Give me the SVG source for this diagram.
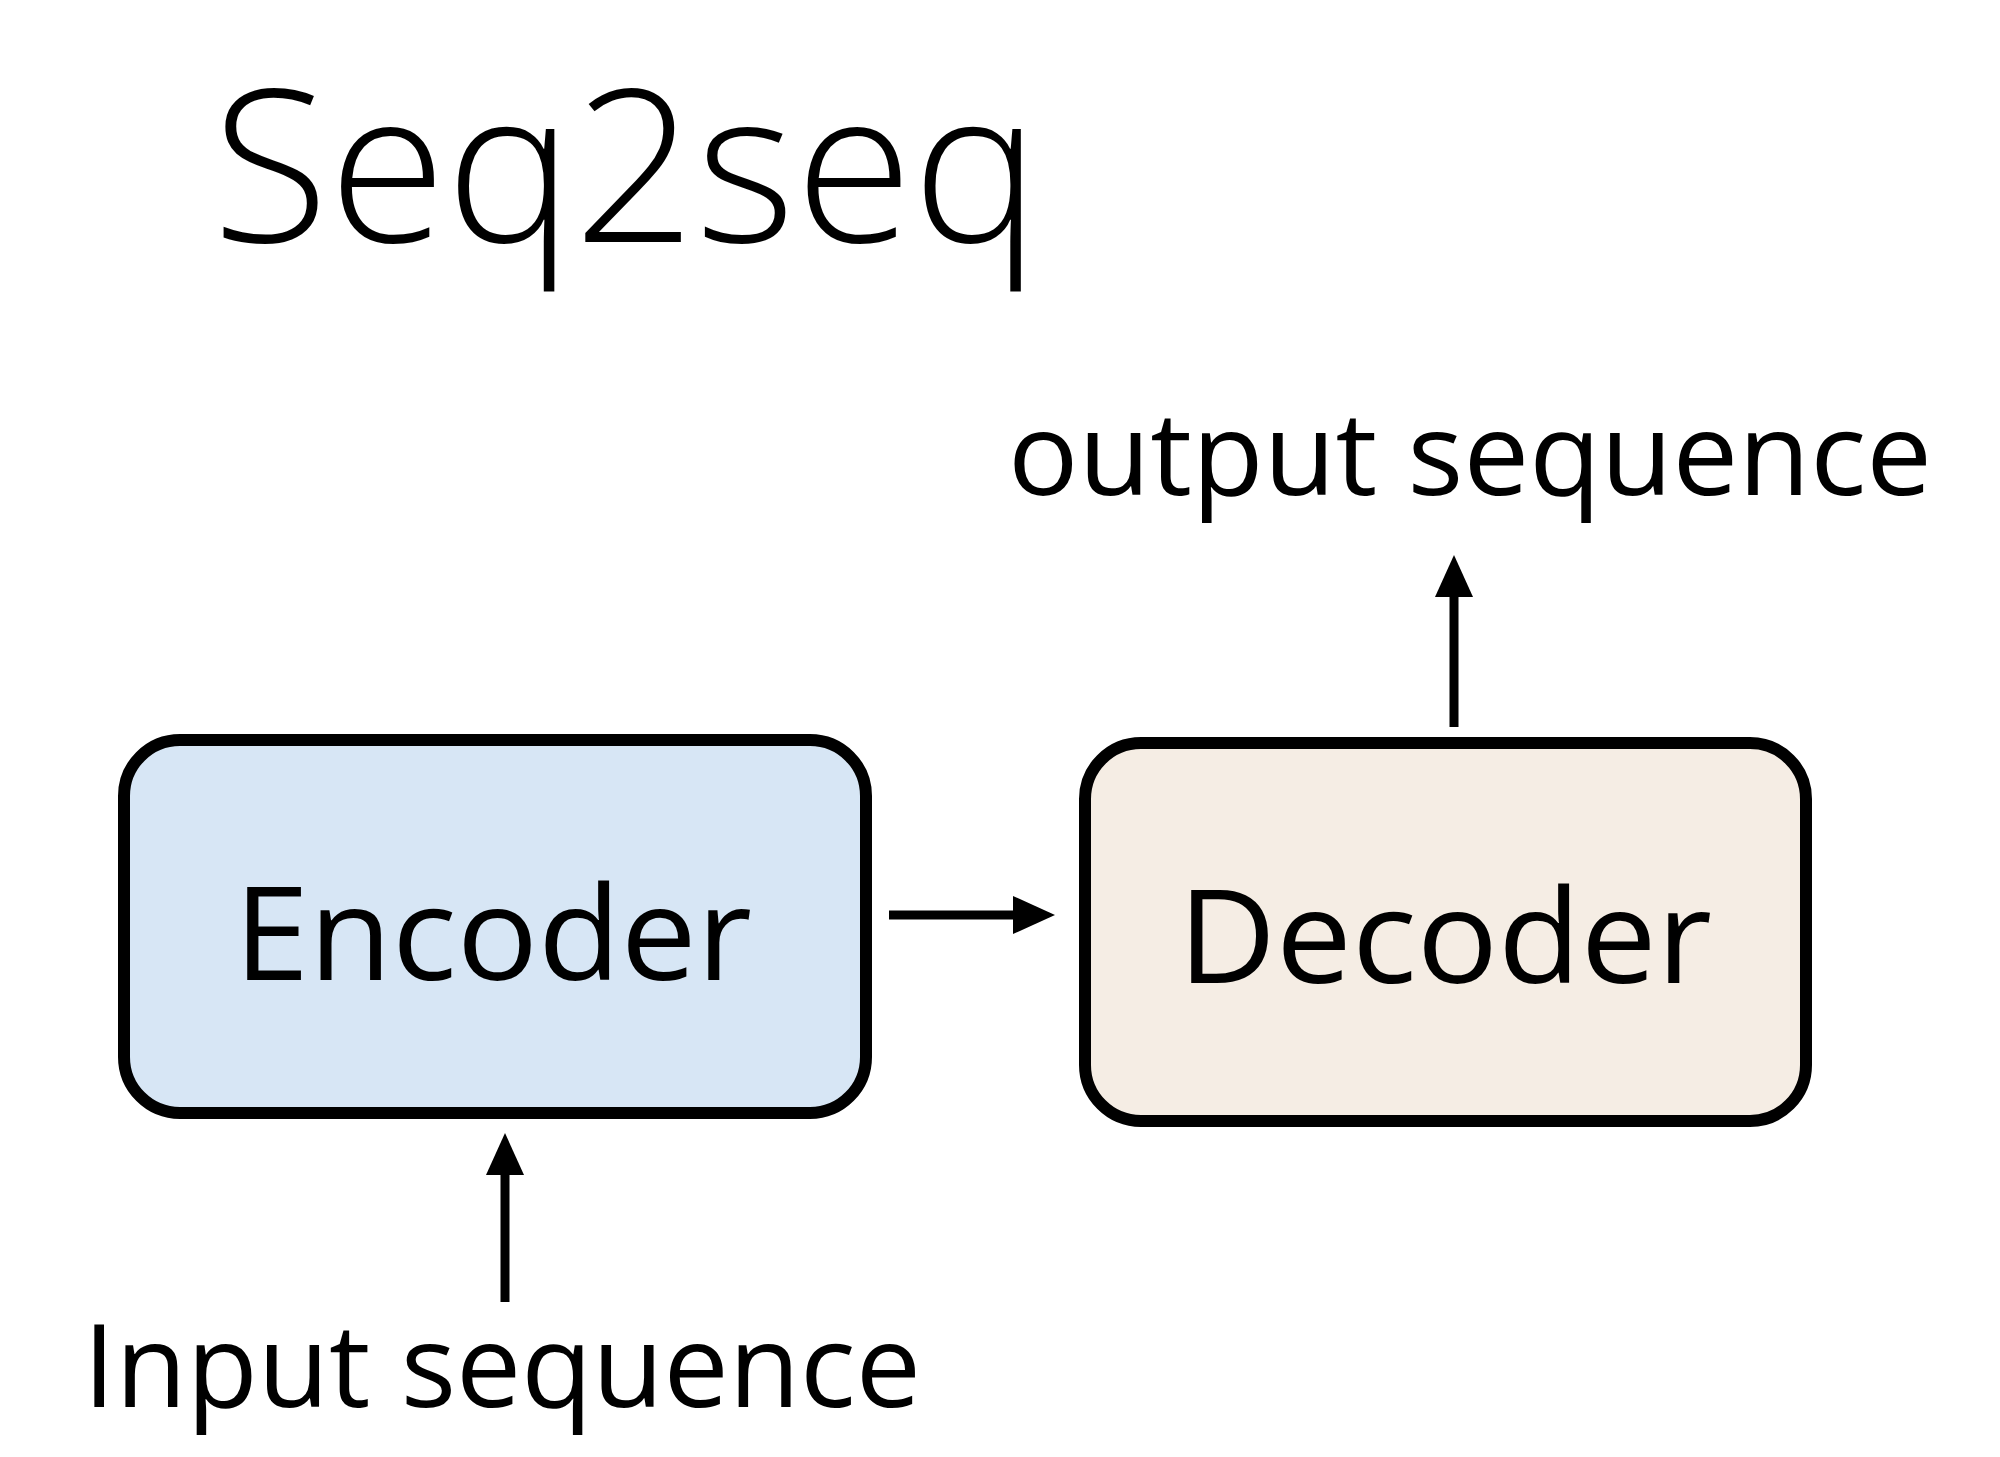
<svg xmlns="http://www.w3.org/2000/svg" width="2000" height="1457" viewBox="0 0 2000 1457">
<style>
.t{font-family:"Open Sans","Liberation Sans",sans-serif;fill:#000}
.box{stroke:#000;stroke-width:12}
.conn{stroke:#000;stroke-width:9;fill:none}
</style>
<defs>
<marker id="ah" markerUnits="userSpaceOnUse" markerWidth="42" markerHeight="40" refX="0" refY="19" orient="auto" viewBox="0 0 42 38">
<path d="M0,0 L42,19 L0,38 z" fill="#000"/>
</marker>
</defs>
<rect width="2000" height="1457" fill="#fff"/>
<text class="t" x="212" y="242" font-size="212" font-weight="300" textLength="828" lengthAdjust="spacingAndGlyphs">Seq2seq</text>
<g id="encoder">
<rect class="box" x="124" y="740" width="742" height="373" rx="56" fill="#d7e6f5"/>
<text class="t" x="493" y="980" font-size="130" text-anchor="middle" textLength="518" lengthAdjust="spacingAndGlyphs">Encoder</text>
</g>
<g id="decoder">
<rect class="box" x="1085" y="743" width="721" height="378" rx="56" fill="#f5ede4"/>
<text class="t" x="1445" y="983" font-size="130" text-anchor="middle" textLength="534" lengthAdjust="spacingAndGlyphs">Decoder</text>
</g>
<g id="output-label">
<text class="t" x="1008" y="495" font-size="116" textLength="924" lengthAdjust="spacingAndGlyphs">output sequence</text>
</g>
<g id="input-label">
<text class="t" x="83" y="1407" font-size="116" textLength="838" lengthAdjust="spacingAndGlyphs">Input sequence</text>
</g>
<g id="connectors">
<line class="conn" x1="889" y1="915" x2="1013" y2="915" marker-end="url(#ah)"/>
<line class="conn" x1="1454" y1="727" x2="1454" y2="597" marker-end="url(#ah)"/>
<line class="conn" x1="505" y1="1302" x2="505" y2="1175" marker-end="url(#ah)"/>
</g>
</svg>
